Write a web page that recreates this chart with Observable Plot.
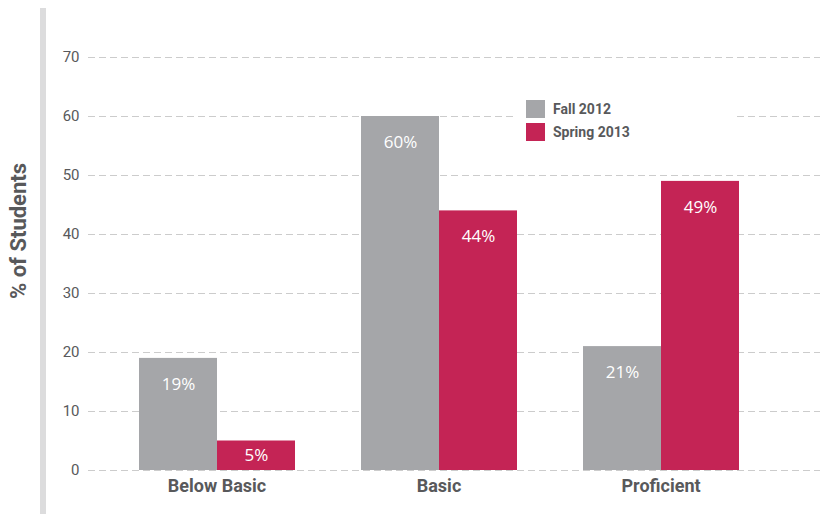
<!DOCTYPE html>
<html>
<head>
<meta charset="utf-8">
<script src="https://cdn.jsdelivr.net/npm/d3@7"></script>
<script src="https://cdn.jsdelivr.net/npm/@observablehq/plot@0.6"></script>
<style>
  html, body { margin: 0; padding: 0; background: #fff; }
  #wrap { position: relative; width: 828px; height: 514px; }
  #bg, #fg { position: absolute; left: 0; top: 0; }
  #sidebar { position: absolute; left: 40px; top: 8px; width: 6px; height: 506px; background: #dcdcdd; }
  #legend { position: absolute; left: 515px; top: 92px; width: 218px; height: 58px; background: #fff;
            font-family: "Liberation Sans Narrow", "Roboto", sans-serif; font-weight: bold; font-size: 14px; color: #58595b; }
  .item { position: absolute; left: 11px; height: 18px; display: flex; align-items: center; }
  .sw { width: 19px; height: 18px; margin-right: 8px; }
</style>
</head>
<body>
<div id="wrap">
  <div id="bg"></div>
  <div id="legend"></div>
  <div id="fg"></div>
  <div id="sidebar"></div>
</div>
<script>
const categories = ["Below Basic", "Basic", "Proficient"];
const seasons = ["Fall 2012", "Spring 2013"];
const fallValues = [19, 60, 21];
const springValues = [5, 44, 49];
const yTicks = [0, 10, 20, 30, 40, 50, 60, 70];
const colors = ["#a5a6a9", "#c42455"];
const yTitle = "% of Students";

const data = categories.flatMap((c, i) => [
  {cat: c, season: seasons[0], value: fallValues[i]},
  {cat: c, season: seasons[1], value: springValues[i]}
]);

const narrow = "'Liberation Sans Narrow', Roboto, sans-serif";
const frame = {width: 828, height: 514, marginLeft: 88, marginRight: 8, marginTop: 57, marginBottom: 44};

// background: gridlines, y axis, y title
const bg = Plot.plot({
  ...frame,
  style: {fontFamily: narrow, color: "#58595b", background: "transparent"},
  y: {domain: [0, 70], axis: null},
  marks: [
    Plot.ruleY(yTicks, {stroke: "#cccccc", strokeDasharray: "7,4"}),
    Plot.axisY(yTicks, {anchor: "left", tickSize: 0, tickPadding: 9, fontSize: 15, fill: "#58595b", label: null}),
    Plot.text([yTitle], {frameAnchor: "left", text: d => d, rotate: -90, dx: -70, dy: -33,
      textAnchor: "middle", fontSize: 22, fontWeight: "bold", fill: "#58595b"})
  ]
});
document.getElementById("bg").appendChild(bg);

const valueFont = {fill: "white", fontSize: 17, fontWeight: 400, fontFamily: "'Open Sans', sans-serif"};

// foreground: bars, value labels, category axis
const fg = Plot.plot({
  ...frame,
  style: {fontFamily: narrow, color: "#58595b", background: "transparent"},
  fx: {domain: categories, range: [104, 772], paddingInner: 0.294, paddingOuter: 0.147, label: null},
  x: {domain: seasons, padding: 0, axis: null},
  y: {domain: [0, 70], axis: null},
  color: {domain: seasons, range: colors},
  marks: [
    Plot.barY(data, {fx: "cat", x: "season", y: "value", fill: "season"}),
    Plot.text(data.filter(d => d.value >= 10), {fx: "cat", x: "season", y: "value", text: d => d.value + "%", dy: 26, ...valueFont}),
    Plot.text(data.filter(d => d.value < 10), {fx: "cat", x: "season", y: d => d.value / 2, text: d => d.value + "%", ...valueFont}),
    Plot.axisFx({anchor: "bottom", tickSize: 0, tickPadding: 9, fontSize: 18, fontWeight: "bold", fill: "#58595b", label: null})
  ]
});
document.getElementById("fg").appendChild(fg);

const legend = document.getElementById("legend");
seasons.forEach((s, i) => {
  const item = document.createElement("div");
  item.className = "item";
  item.style.top = (8 + i * 23) + "px";
  const sw = document.createElement("div");
  sw.className = "sw";
  sw.style.background = colors[i];
  item.appendChild(sw);
  item.appendChild(document.createTextNode(s));
  legend.appendChild(item);
});
</script>
</body>
</html>
